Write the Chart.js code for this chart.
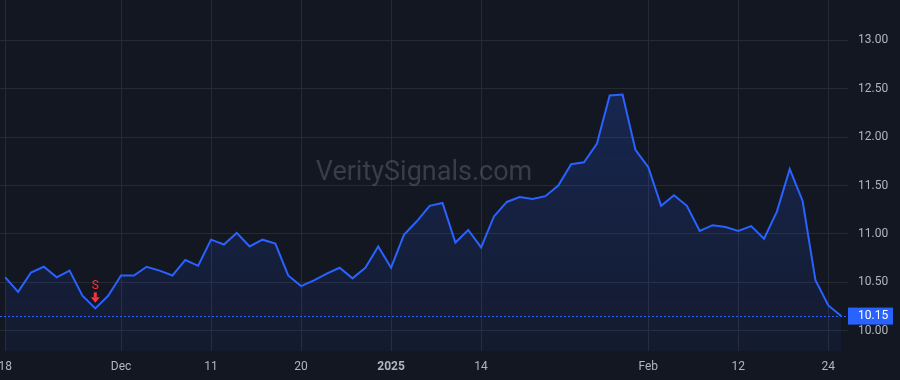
<!DOCTYPE html>
<html>
<head>
<meta charset="utf-8">
<script src="https://cdn.jsdelivr.net/npm/chart.js@4.4.1/dist/chart.umd.min.js"></script>
<style>
  html, body { margin: 0; padding: 0; background: #131722; }
  #wrap { width: 900px; height: 380px; position: relative; }
</style>
</head>
<body>
<div id="wrap"><canvas id="chart"></canvas></div>
<script>
// Trading days shown on the chart
const dates = [
  '2024-11-18','2024-11-19','2024-11-20','2024-11-21','2024-11-22','2024-11-25','2024-11-26','2024-11-27','2024-11-29',
  '2024-12-02','2024-12-03','2024-12-04','2024-12-05','2024-12-06','2024-12-09','2024-12-10','2024-12-11','2024-12-12',
  '2024-12-13','2024-12-16','2024-12-17','2024-12-18','2024-12-19','2024-12-20','2024-12-23','2024-12-24','2024-12-26',
  '2024-12-27','2024-12-30','2024-12-31',
  '2025-01-02','2025-01-03','2025-01-06','2025-01-07','2025-01-08','2025-01-10','2025-01-13','2025-01-14','2025-01-15',
  '2025-01-16','2025-01-17','2025-01-21','2025-01-22','2025-01-23','2025-01-24','2025-01-27','2025-01-28','2025-01-29',
  '2025-01-30','2025-01-31',
  '2025-02-03','2025-02-04','2025-02-05','2025-02-06','2025-02-07','2025-02-10','2025-02-11','2025-02-12','2025-02-13',
  '2025-02-14','2025-02-18','2025-02-19','2025-02-20','2025-02-21','2025-02-24','2025-02-25'
];

// Closing prices
const closes = [
  10.55, 10.40, 10.60, 10.66, 10.55, 10.62, 10.36, 10.23, 10.36,
  10.57, 10.57, 10.66, 10.62, 10.57, 10.73, 10.67, 10.94, 10.89,
  11.01, 10.87, 10.94, 10.90, 10.57, 10.46, 10.52, 10.59, 10.65,
  10.54, 10.65, 10.87,
  10.65, 10.99, 11.13, 11.29, 11.32, 10.91, 11.04, 10.86, 11.18,
  11.33, 11.38, 11.36, 11.39, 11.50, 11.72, 11.74, 11.93, 12.43,
  12.44, 11.87,
  11.69, 11.29, 11.40, 11.29, 11.03, 11.09, 11.07, 11.03, 11.08,
  10.95, 11.23, 11.67, 11.34, 10.52, 10.26, 10.15
];

// X axis tick labels
const xTickDates = ['2024-11-18','2024-12-02','2024-12-11','2024-12-20','2025-01-02','2025-01-14','2025-02-03','2025-02-12','2025-02-24'];
const xTickLabels = ['18','Dec','11','20','2025','14','Feb','12','24'];

// Y axis ticks
const yTicks = [10.0, 10.5, 11.0, 11.5, 12.0, 12.5, 13.0];

// Sell signal and last price
const signalDates = ['2024-11-27'];
const signalLabels = ['S'];
const lastPrice = closes[closes.length - 1];

const BLUE = '#2962ff';
const GRID = '#262a35';
const TEXT = '#b2b5be';
const FONT = "Roboto, 'Liberation Sans', sans-serif";

const points = closes.map((v, i) => ({ x: i, y: v }));
const xTickIdx = xTickDates.map(d => dates.indexOf(d));

// Watermark behind the line
const watermark = {
  id: 'watermark',
  beforeDatasetsDraw(chart) {
    const { ctx, chartArea: a } = chart;
    ctx.save();
    ctx.font = "27px " + FONT;
    ctx.fillStyle = 'rgba(120,124,136,0.38)';
    ctx.textAlign = 'center';
    ctx.textBaseline = 'middle';
    ctx.fillText('VeritySignals.com', (a.left + a.right) / 2, 173);
    ctx.restore();
  }
};

// Dotted last-price line, price tag and signal markers
const overlays = {
  id: 'overlays',
  afterDatasetsDraw(chart) {
    const { ctx, chartArea: a, scales: { x, y } } = chart;
    ctx.save();
    const py = Math.round(y.getPixelForValue(lastPrice)) + 0.5;
    ctx.strokeStyle = BLUE;
    ctx.lineWidth = 1;
    ctx.setLineDash([2, 2]);
    ctx.beginPath();
    ctx.moveTo(a.left, py);
    ctx.lineTo(a.right, py);
    ctx.stroke();
    ctx.setLineDash([]);

    // signals
    signalDates.forEach((d, k) => {
      const i = dates.indexOf(d);
      const sx = x.getPixelForValue(i);
      const sy = y.getPixelForValue(closes[i]);
      ctx.fillStyle = '#f23645';
      ctx.font = "12px " + FONT;
      ctx.textAlign = 'center';
      ctx.textBaseline = 'middle';
      ctx.fillText(signalLabels[k], sx, sy - 22);
      // arrow
      ctx.fillRect(sx - 1.5, sy - 16, 3, 5);
      ctx.beginPath();
      ctx.moveTo(sx - 4.5, sy - 11);
      ctx.lineTo(sx + 4.5, sy - 11);
      ctx.lineTo(sx, sy - 5.5);
      ctx.closePath();
      ctx.fill();
    });
    ctx.restore();
  },
  afterDraw(chart) {
    const { ctx, chartArea: a, scales: { y } } = chart;
    const py = y.getPixelForValue(lastPrice);
    ctx.save();
    ctx.fillStyle = BLUE;
    ctx.fillRect(a.right, py - 8.5, 45, 17);
    ctx.fillStyle = '#ffffff';
    ctx.font = "12px " + FONT;
    ctx.textAlign = 'left';
    ctx.textBaseline = 'middle';
    ctx.fillText(lastPrice.toFixed(2), a.right + 10, py);
    ctx.restore();
  }
};

new Chart(document.getElementById('chart'), {
  type: 'line',
  plugins: [watermark, overlays],
  data: {
    datasets: [{
      data: points,
      borderColor: BLUE,
      borderWidth: 2,
      pointRadius: 0,
      tension: 0,
      fill: 'start',
      backgroundColor: (context) => {
        const { ctx, chartArea } = context.chart;
        if (!chartArea) return null;
        const g = ctx.createLinearGradient(0, chartArea.top + 80, 0, chartArea.bottom);
        g.addColorStop(0, 'rgba(41,98,255,0.22)');
        g.addColorStop(1, 'rgba(41,98,255,0.06)');
        return g;
      }
    }]
  },
  options: {
    responsive: true,
    maintainAspectRatio: false,
    animation: false,
    layout: { padding: 0 },
    plugins: { legend: { display: false }, tooltip: { enabled: false } },
    scales: {
      x: {
        type: 'linear',
        min: -0.41,
        max: 65.53,
        afterBuildTicks: (s) => { s.ticks = xTickIdx.map(v => ({ value: v })); },
        afterFit: (s) => { s.height = 29; s.paddingLeft = 0; s.paddingRight = 0; },
        grid: { color: GRID, drawTicks: false },
        border: { display: false },
        ticks: {
          color: TEXT,
          padding: 9,
          maxRotation: 0,
          autoSkip: false,
          font: (c) => ({ family: FONT, size: 12, weight: (c.tick && c.tick.value === xTickIdx[4]) ? 'bold' : 'normal' }),
          callback: (v) => xTickLabels[xTickIdx.indexOf(v)]
        }
      },
      y: {
        position: 'right',
        min: 9.789,
        max: 13.418,
        afterBuildTicks: (s) => { s.ticks = yTicks.map(v => ({ value: v })); },
        afterFit: (s) => { s.width = 52; s.paddingTop = 0; s.paddingBottom = 0; },
        grid: { color: GRID, drawTicks: false },
        border: { display: false },
        ticks: {
          color: TEXT,
          padding: 10,
          font: { family: FONT, size: 12 },
          callback: (v) => Number(v).toFixed(2)
        }
      }
    }
  }
});
</script>
</body>
</html>
